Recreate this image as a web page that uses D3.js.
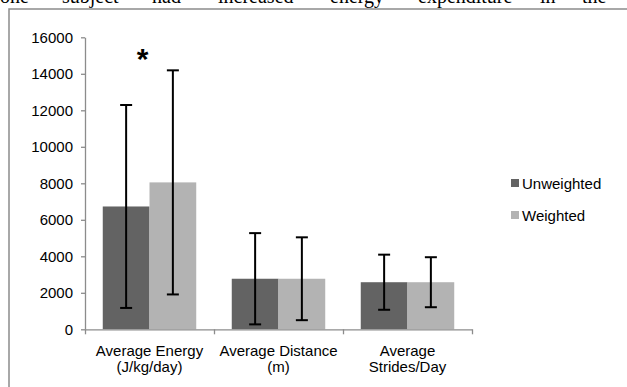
<!DOCTYPE html>
<html><head><meta charset="utf-8">
<script src="https://cdn.jsdelivr.net/npm/d3@7"></script>
<style>
html,body{margin:0;padding:0;background:#fff;}
svg{display:block;}
</style></head>
<body>
<svg id="c" width="627" height="387"></svg>
<script>
// ---- data ----
const categories = ["Average Energy\n(J/kg/day)", "Average Distance\n(m)", "Average\nStrides/Day"];
const seriesNames = ["Unweighted", "Weighted"];
const unweightedMean = [6730, 2770, 2580];
const weightedMean = [8050, 2770, 2580];
const unweightedSD = [5560, 2500, 1510];
const weightedSD = [6140, 2270, 1370];
const yTicks = [0, 2000, 4000, 6000, 8000, 10000, 12000, 14000, 16000];
const significant = [true, false, false];
const headerWords = ["one", "subject", "had", "increased", "energy", "expenditure", "in", "the"];

const colors = ["#636363", "#b3b3b3"];
const svg = d3.select("#c");
const font = "'Liberation Sans', Arial, sans-serif";
const fs = 15;

// header text from the page (cut off at the top, as in the source)
const headerX = [0, 62, 152, 218, 330, 418, 540, 582];
svg.append("text").attr("y", 3).attr("font-family", "'Liberation Serif', 'Times New Roman', serif")
  .attr("font-size", 20).attr("fill", "#000")
  .selectAll("tspan").data(headerWords).join("tspan")
  .attr("x", (d, i) => headerX[i]).text(d => d);

// frame
svg.append("path").attr("d", "M9,387 V9 H627").attr("fill", "none").attr("stroke", "#8c8c8c").attr("stroke-width", 1.5);

const pL = 85, pR = 472, pT = 37.3, pB = 329.3;
const y = d3.scaleLinear().domain([0, 16000]).range([pB, pT]);
const x0 = d3.scaleBand().domain(d3.range(categories.length)).range([pL, pR]).paddingInner(0).paddingOuter(0);
const x1 = d3.scaleBand().domain(d3.range(seriesNames.length)).range([0, x0.bandwidth()]).paddingOuter(0.38).paddingInner(0);

// y axis
const yAxis = d3.axisLeft(y).tickValues(yTicks).tickFormat(d3.format("d")).tickSize(4).tickPadding(8).tickSizeOuter(0);
const gy = svg.append("g").attr("transform", `translate(${pL},0)`).call(yAxis);
gy.select(".domain").attr("stroke", "#8c8c8c").attr("stroke-width", 1.3);
gy.selectAll(".tick line").attr("stroke", "#8c8c8c").attr("stroke-width", 1.3);
gy.selectAll(".tick text").attr("font-family", font).attr("font-size", fs).attr("fill", "#000");

const series = [unweightedMean, weightedMean];
const sds = [unweightedSD, weightedSD];
const rows = [];
categories.forEach((c, ci) => seriesNames.forEach((s, si) => rows.push({ci, si, v: series[si][ci], sd: sds[si][ci]})));

// bars
svg.append("g").selectAll("rect").data(rows).join("rect")
  .attr("x", d => x0(d.ci) + x1(d.si))
  .attr("width", x1.bandwidth())
  .attr("y", d => y(d.v))
  .attr("height", d => y(0) - y(d.v))
  .attr("fill", d => colors[d.si]);

// x axis
const xAxis = d3.axisBottom(d3.scaleLinear().domain([0, categories.length]).range([pL, pR]))
  .tickValues(d3.range(categories.length + 1)).tickSize(5).tickFormat("").tickSizeOuter(0);
const gx = svg.append("g").attr("transform", `translate(0,${pB})`).call(xAxis);
gx.select(".domain").attr("stroke", "#8c8c8c").attr("stroke-width", 1.3);
gx.selectAll(".tick line").attr("stroke", "#8c8c8c").attr("stroke-width", 1.3);

// category labels
const cl = svg.append("g").selectAll("text").data(categories).join("text")
  .attr("x", (d, i) => x0(i) + x0.bandwidth() / 2)
  .attr("y", 356)
  .attr("text-anchor", "middle").attr("font-family", font).attr("font-size", fs).attr("fill", "#000");
cl.selectAll("tspan").data(d => d.split("\n")).join("tspan")
  .attr("x", function() { return this.parentNode.getAttribute("x"); })
  .attr("dy", (d, i) => i === 0 ? 0 : 16).text(d => d);

// error bars
const eg = svg.append("g").attr("stroke", "#000").attr("stroke-width", 2).attr("fill", "none");
rows.forEach(d => {
  const cx = x0(d.ci) + x1(d.si) + x1.bandwidth() / 2;
  const yt = y(d.v + d.sd), yb = y(d.v - d.sd);
  eg.append("line").attr("x1", cx).attr("x2", cx).attr("y1", yt).attr("y2", yb);
  eg.append("line").attr("x1", cx - 6).attr("x2", cx + 6).attr("y1", yt).attr("y2", yt);
  eg.append("line").attr("x1", cx - 6).attr("x2", cx + 6).attr("y1", yb).attr("y2", yb);
});

// significance star
svg.append("g").selectAll("text").data(categories.map((c, i) => i).filter(i => significant[i])).join("text")
  .attr("x", i => x0(i) + x0.bandwidth() / 2 - 7)
  .attr("y", 69)
  .attr("text-anchor", "middle").attr("font-family", font).attr("font-weight", "bold")
  .attr("font-size", 30).attr("fill", "#000").text("*");

// legend
const lg = svg.append("g").selectAll("g").data(seriesNames).join("g")
  .attr("transform", (d, i) => `translate(511,${179 + i * 32})`);
lg.append("rect").attr("width", 8).attr("height", 8).attr("fill", (d, i) => colors[i]);
lg.append("text").attr("x", 11).attr("y", 10).attr("font-family", font).attr("font-size", fs).attr("fill", "#000").text(d => d);
</script>
</body></html>
